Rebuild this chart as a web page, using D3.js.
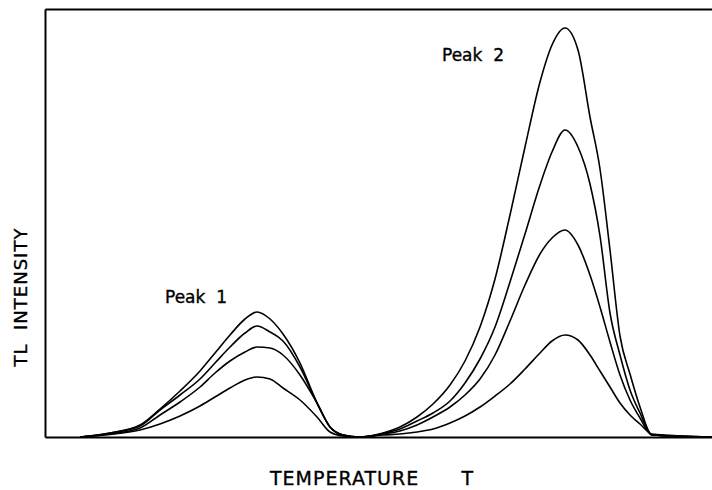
<!DOCTYPE html>
<html>
<head>
<meta charset="utf-8">
<script src="https://cdn.jsdelivr.net/npm/d3@7"></script>
<style>
  body { margin: 0; background: #fff; }
  text { font-family: "DejaVu Sans", sans-serif; fill: #000; stroke: #000; stroke-width: 0.35; }
</style>
</head>
<body>
<div id="chart"></div>
<script>
// temperature samples (arbitrary units)
var temperature = [35, 65, 95, 115, 135, 155, 170, 185, 200, 212, 225, 238, 255, 272, 285, 298, 315,
  338, 355, 372, 388, 405, 420, 435, 450, 465, 480, 495, 507, 520, 533, 545, 555, 565, 575, 585, 595, 607, 667];

// TL intensity (arbitrary units), four irradiation doses, highest first
var doseA = [0, 4, 12, 28, 46, 66, 84, 102, 118, 125, 118, 103, 74, 34, 10, 2, 0,
  4, 10, 20, 33, 52, 76, 110, 158, 222, 290, 355, 392, 409, 387, 320, 268, 187, 101, 63, 30, 2, 0];
var doseB = [0, 4, 11, 27, 42, 58, 74, 90, 104, 111, 105, 96, 70, 34, 10, 2, 0,
  3.5, 8, 16, 24, 36, 54, 78, 110, 155, 203, 252, 285, 307, 290, 253, 201, 124, 82, 47, 24, 2, 0];
var doseC = [0, 3, 9, 22, 35, 50, 64, 76, 85, 90, 89, 82, 62, 34, 10, 2, 0,
  3, 6, 12, 20, 30, 42, 58, 82, 116, 152, 183, 199, 207, 192, 162, 130, 95, 62, 37, 19, 2, 0];
var doseD = [0, 2.5, 7, 13, 21, 31, 40, 49, 57, 60, 58, 49, 37, 20, 5, 1, 0,
  2, 3, 5, 8, 14, 21, 30, 41, 53, 68, 84, 96, 102, 97, 82, 66, 50, 34, 22, 13, 3, 0];

var series = [doseA, doseB, doseC, doseD];
var peakLabels = ["Peak 1", "Peak 2"];
var peakAt = [{t: 120, i: 134}, {t: 397, i: 376}];

var width = 712, height = 490;
var margin = {top: 9, right: 0, bottom: 53, left: 45};

var svg = d3.select("#chart").append("svg")
  .attr("width", width)
  .attr("height", height);

var x = d3.scaleLinear()
  .domain([0, 667])
  .range([margin.left, width - margin.right]);

var y = d3.scaleLinear()
  .domain([0, 428])
  .range([height - margin.bottom, margin.top]);

// frame: bottom, left and top, no ticks
svg.append("g")
  .attr("transform", "translate(0," + y(0) + ")")
  .call(d3.axisBottom(x).ticks(0).tickSizeOuter(0));
svg.append("g")
  .attr("transform", "translate(" + x(0) + ",0)")
  .call(d3.axisLeft(y).ticks(0).tickSizeOuter(0));
svg.append("g")
  .attr("transform", "translate(0," + y(428) + ")")
  .call(d3.axisTop(x).ticks(0).tickSizeOuter(0));
svg.selectAll(".domain")
  .attr("stroke", "#000")
  .attr("stroke-width", 2);

var line = d3.line()
  .x(function(d, i) { return x(temperature[i]); })
  .y(function(d) { return y(d); })
  .curve(d3.curveMonotoneX);

svg.append("g")
  .selectAll("path")
  .data(series)
  .enter()
  .append("path")
  .attr("d", line)
  .attr("fill", "none")
  .attr("stroke", "#000")
  .attr("stroke-width", 1.6)
  .attr("stroke-linejoin", "round");

// peak labels
svg.selectAll(".peak")
  .data(peakLabels)
  .enter()
  .append("text")
  .attr("class", "peak")
  .attr("x", function(d, i) { return x(peakAt[i].t); })
  .attr("y", function(d, i) { return y(peakAt[i].i); })
  .attr("font-size", 17)
  .attr("xml:space", "preserve")
  .text(function(d) { return d.replace(" ", "  "); });

// axis titles
svg.append("text")
  .attr("x", 372)
  .attr("y", 485)
  .attr("text-anchor", "middle")
  .attr("font-size", 19)
  .attr("letter-spacing", 1)
  .attr("xml:space", "preserve")
  .text("TEMPERATURE      T");

svg.append("text")
  .attr("transform", "translate(27," + 297 + ") rotate(-90)")
  .attr("text-anchor", "middle")
  .attr("font-size", 18)
  .attr("letter-spacing", 1)
  .attr("xml:space", "preserve")
  .text("TL  INTENSITY");
</script>
</body>
</html>
